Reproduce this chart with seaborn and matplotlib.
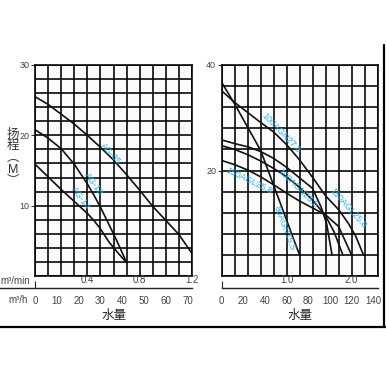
import numpy as np
import pandas as pd
import seaborn as sns
import matplotlib
matplotlib.use('Agg')
import matplotlib.pyplot as plt
from matplotlib.lines import Line2D
from matplotlib.ticker import MultipleLocator, FixedLocator

sns.set_theme(style='white')
plt.rcParams['font.family'] = ['Liberation Sans', 'Noto Sans CJK SC']

# ---------------- data (flow in m3/h, head in m) ----------------
left_names = ['AG-35', 'AG-18', 'AG-14']
ag35_q = [0, 6, 12, 18, 24, 30, 36, 42, 48, 54, 60, 66, 72]
ag35_h = [25.5, 24.4, 23.0, 21.6, 20.0, 18.3, 16.5, 14.4, 12.2, 9.9, 7.9, 5.9, 3.2]
ag18_q = [0, 6, 12, 18, 24, 27, 30, 33, 36, 39, 42]
ag18_h = [20.8, 19.6, 18.1, 15.9, 13.1, 11.5, 9.8, 7.9, 6.0, 4.0, 1.9]
ag14_q = [0, 6, 12, 18, 24, 27, 30, 34, 38, 42]
ag14_h = [15.9, 14.1, 12.3, 10.6, 8.9, 7.9, 6.7, 4.8, 3.3, 1.9]

right_names = ['80AGN15.5', '100AGN27.8', '100AGN23.5', '150AGL25.8', '150AGL25.8']
c80_q = [0, 12, 24, 36, 48, 60, 66, 72]
c80_h = [36.7, 32.6, 28.2, 23.8, 17.2, 10.6, 7.2, 4.0]
c100a_q = [0, 12, 24, 36, 48, 60, 72, 84, 96, 108, 117, 124, 131]
c100a_h = [35.1, 32.9, 31.0, 29.1, 27.3, 24.9, 22.0, 18.7, 15.2, 12.6, 10.0, 7.5, 4.0]
c100b_q = [0, 12, 24, 36, 48, 60, 72, 84, 92, 97, 102]
c100b_h = [25.8, 25.1, 24.5, 23.6, 22.3, 20.6, 18.6, 16.6, 13.0, 9.9, 4.0]
c150a_q = [0, 12, 24, 36, 48, 60, 72, 84, 96, 104, 112]
c150a_h = [24.7, 24.0, 23.0, 21.8, 20.4, 18.8, 16.8, 14.4, 11.4, 8.3, 4.0]
c150b_q = [0, 12, 24, 36, 48, 60, 72, 84, 96, 108, 120]
c150b_h = [21.9, 21.1, 20.1, 18.8, 17.3, 15.7, 14.2, 12.9, 11.6, 9.4, 4.0]

left_ticks_h = [0, 10, 20, 30, 40, 50, 60, 70]
left_ticks_min = [0.4, 0.8, 1.2]
right_ticks_h = [0, 20, 40, 60, 80, 100, 120, 140]
right_ticks_min = [1.0, 2.0]

# label positions (flow, head, screen angle)
left_lab = [(34.8, 17.4, -47), (26.8, 13.1, -54), (21.0, 11.1, -54)]
right_lab = [(57.7, 9.0, -69), (55.4, 27.1, -46), (70.7, 16.7, -44),
             (25.4, 18.1, -26), (116.5, 12.8, -48)]

W = H = 386.0
fig = plt.figure(figsize=(3.86, 3.86), dpi=100)
fig.patch.set_facecolor('white')

def fx(px):
    return px / W

def fy(py):
    return 1 - py / H

bot = fy(276)
ht = fy(65) - bot
axL = fig.add_axes([fx(35), bot, fx(192) - fx(35), ht])
axR = fig.add_axes([fx(221.7), bot, fx(377.5) - fx(221.7), ht])

CY = '#2fb0e8'
TC = '#444444'

def style(ax, xmax, ymax, xstep, ystep, ylabs):
    ax.set_facecolor('#fbfbfb')
    ax.set_xlim(0, xmax)
    ax.set_ylim(0, ymax)
    ax.xaxis.set_minor_locator(MultipleLocator(xstep))
    ax.yaxis.set_minor_locator(MultipleLocator(ystep))
    ax.xaxis.set_major_locator(FixedLocator([]))
    ax.yaxis.set_major_locator(FixedLocator(ylabs))
    ax.set_yticklabels([str(v) for v in ylabs])
    ax.grid(True, which='both', color='black', lw=1.15)
    ax.set_axisbelow(True)
    ax.tick_params(axis='x', which='both', length=0, labelbottom=False)
    ax.tick_params(axis='y', which='minor', length=0)
    ax.tick_params(axis='y', which='major', length=3, width=0.8, color='#333',
                   labelsize=6.5, labelcolor=TC, pad=1, left=True)
    for s in ax.spines.values():
        s.set_color('black')
        s.set_linewidth(1.15)
    ax.set_xlabel('')
    ax.set_ylabel('')

def draw(ax, q, h):
    df = pd.DataFrame({'q': q, 'h': h})
    sns.lineplot(data=df, x='q', y='h', ax=ax, color='#111111', lw=1.2,
                 estimator=None, sort=False, legend=False)

for q, h in [(ag35_q, ag35_h), (ag18_q, ag18_h), (ag14_q, ag14_h)]:
    draw(axL, q, h)
for q, h in [(c80_q, c80_h), (c100a_q, c100a_h), (c100b_q, c100b_h),
             (c150a_q, c150a_h), (c150b_q, c150b_h)]:
    draw(axR, q, h)

style(axL, 72, 30, 6, 2, [10, 20, 30])
style(axR, 144, 40, 12, 4, [20, 40])

for name, (q, h, a) in zip(left_names, left_lab):
    axL.text(q, h, name, color=CY, fontsize=6.5, rotation=a,
             rotation_mode='anchor', ha='center', va='center')
for name, (q, h, a) in zip(right_names, right_lab):
    axR.text(q, h, name, color=CY, fontsize=6.5, rotation=a,
             rotation_mode='anchor', ha='center', va='center')

# unit axes below the charts
def unit_axis(left_px, right_px, xmin, xmax, ticks_h, ticks_min, min_fmt):
    ua = fig.add_axes([fx(left_px), fy(288), fx(right_px) - fx(left_px), 1e-5])
    ua.set_facecolor('none')
    ua.set_xlim(xmin, xmax)
    ua.set_yticks([])
    for k in ['left', 'right', 'top']:
        ua.spines[k].set_visible(False)
    ua.spines['bottom'].set_color('#222')
    ua.spines['bottom'].set_linewidth(1.0)
    ua.set_xticks(ticks_h)
    ua.set_xticklabels([str(v) for v in ticks_h])
    ua.tick_params(axis='x', direction='out', length=4, width=0.8, color='#222',
                   labelsize=7, labelcolor=TC, pad=2)
    sec = ua.secondary_xaxis('top', functions=(lambda x: x / 60.0, lambda x: x * 60.0))
    sec.spines['top'].set_visible(False)
    sec.set_xticks(ticks_min)
    sec.set_xticklabels([min_fmt.format(v) for v in ticks_min])
    sec.set_xticks([0.0], minor=True)
    sec.tick_params(axis='x', which='major', length=0, labelsize=7, labelcolor=TC, pad=2)
    sec.tick_params(axis='x', which='minor', length=5, width=0.8, color='#222')
    return ua

unit_axis(0, 192, -35 / (157 / 72.0), 72, left_ticks_h, left_ticks_min, '{:.1f}')
unit_axis(221.7, 377.5, 0, 144, right_ticks_h, right_ticks_min, '{:.1f}')

fig.text(fx(0), fy(281), 'm³/min', fontsize=7, color=TC, ha='left', va='center')
fig.text(fx(8), fy(300), 'm³/h', fontsize=7, color=TC, ha='left', va='center')
fig.text(fx(114), fy(316), '水量', fontsize=9, color='#222', ha='center', va='center')
fig.text(fx(300), fy(316), '水量', fontsize=9, color='#222', ha='center', va='center')
fig.text(fx(12.7), fy(158), '扬\n程\n︵\nM\n︶', fontsize=9, color='#333',
         ha='center', va='center', linespacing=0.95)

# frame lines of the scanned sheet
fig.add_artist(Line2D([0, 1], [fy(327), fy(327)], color='black', lw=1.6,
                      transform=fig.transFigure))
fig.add_artist(Line2D([fx(383.5), fx(383.5)], [fy(327), fy(45)], color='black',
                      lw=1.6, transform=fig.transFigure))

fig.savefig('out.png', dpi=100, facecolor='white')
